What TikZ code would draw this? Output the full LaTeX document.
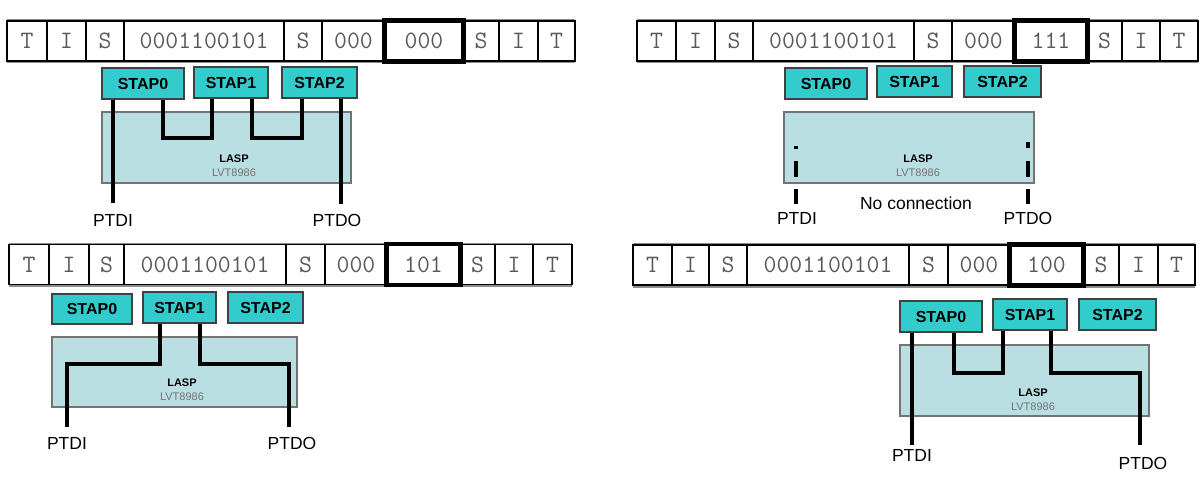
\documentclass[tikz,border=0pt]{standalone}
\usepackage{fontspec}
\setmainfont{Liberation Sans}
\definecolor{stapfill}{RGB}{51,204,204}
\definecolor{laspfill}{RGB}{186,223,227}
\begin{document}
\begin{tikzpicture}[x=1pt,y=-1pt,
	cell/.style={draw,line width=1.3pt,inner sep=0,minimum height=40pt,
		font=\ttfamily\fontsize{25}{25}\selectfont,text=black!65},
	barframe/.style={draw=black!45,line width=2.5pt},
	selbox/.style={draw,line width=4.5pt},
	stap/.style={draw=black!75,line width=1.2pt,fill=stapfill,inner sep=0,
		minimum height=31pt,font=\bfseries\fontsize{16}{16}\selectfont},
	lasp/.style={draw=black!55,line width=1.2pt,fill=laspfill,inner sep=0,
		minimum height=71pt},
	lasptext/.style={align=center,inner sep=0,font=\fontsize{11}{14}\selectfont},
	portlabel/.style={font=\fontsize{17.5}{18}\selectfont,inner sep=0},
	wire/.style={line width=4pt}]
\useasboundingbox (0,0) rectangle (1203,493);

% 000 : STAP0, STAP1 and STAP2 in the chain
\draw[barframe] (7,20) -- (575,20) (7,62) -- (575,62);
\foreach \a/\b/\t [count=\i] in {7/47/T,47/86/I,86/124/S,124/284/0001100101,284/322/S,
	322/385/000,385/463/000,463/499/S,499/538/I,538/575/T}
	\node[cell,minimum width={(\b-\a)*1pt}] (p1c\i) at ({(\a+\b)/2},41) {\t};
\draw[selbox] (p1c7.north west) rectangle (p1c7.south east);
\node[stap,minimum width=82pt] (p1a0) at (143,83.5) {STAP0};
\node[stap,minimum width=74pt] (p1a1) at (231,82.5) {STAP1};
\node[stap,minimum width=75pt] (p1a2) at (319.5,82.5) {STAP2};
\node[lasp,minimum width=249pt] (p1l) at (226.5,147.5) {};
\node[lasptext] (p1t) at (234,166) {\textbf{LASP}\\\textcolor{black!55}{LVT8986}};
\coordinate (p1i) at (113,203);
\coordinate (p1o) at (341,204);
\coordinate (p1u0) at (163,138);
\coordinate (p1u1) at (212,138);
\coordinate (p1u2) at (252,138);
\coordinate (p1u3) at (302,138);
\draw[wire] (p1i |- p1a0.south) -- (p1i);
\draw[wire] (p1u0 |- p1a0.south) -- (p1u0) -- (p1u1) -- (p1u1 |- p1a1.south);
\draw[wire] (p1u2 |- p1a1.south) -- (p1u2) -- (p1u3) -- (p1u3 |- p1a2.south);
\draw[wire] (p1o |- p1a2.south) -- (p1o);
\node[portlabel] (p1di) at (113,220) {PTDI};
\node[portlabel] (p1do) at (337,220) {PTDO};

% 111 : nothing in the chain
\draw[barframe] (637,20) -- (1198,20) (637,62) -- (1198,62);
\foreach \a/\b/\t [count=\i] in {637/676/T,676/715/I,715/753/S,753/914/0001100101,914/952/S,
	952/1015/000,1015/1087/111,1087/1122/S,1122/1160/I,1160/1198/T}
	\node[cell,minimum width={(\b-\a)*1pt}] (p2c\i) at ({(\a+\b)/2},41) {\t};
\draw[selbox] (p2c7.north west) rectangle (p2c7.south east);
\node[stap,minimum width=82pt] (p2a0) at (826,83.5) {STAP0};
\node[stap,minimum width=75pt] (p2a1) at (914.5,81.5) {STAP1};
\node[stap,minimum width=77pt] (p2a2) at (1002.5,81.5) {STAP2};
\node[lasp,minimum width=250pt] (p2l) at (909,147.5) {};
\node[lasptext] (p2t) at (918,166) {\textbf{LASP}\\\textcolor{black!55}{LVT8986}};
\coordinate (p2i) at (796,204);
\coordinate (p2o) at (1028,204);
\draw[wire] (796,146) -- (796,149) (796,161) -- (796,177) (796,189) -- (p2i);
\draw[wire] (1028,142) -- (1028,148) (1028,161) -- (1028,177) (1028,189) -- (p2o);
\node[portlabel] (p2di) at (797,218) {PTDI};
\node[portlabel] (p2do) at (1028,218) {PTDO};
\node[portlabel] (p2nc) at (916,203) {No connection};

% 101 : only STAP1 in the chain
\draw[barframe] (9,244) -- (572,244) (9,285.5) -- (572,285.5);
\foreach \a/\b/\t [count=\i] in {9/49/T,49/89/I,89/124/S,124/286/0001100101,286/325/S,
	325/387/000,387/460/101,460/495/S,495/533/I,533/572/T}
	\node[cell,minimum width={(\b-\a)*1pt}] (p3c\i) at ({(\a+\b)/2},264.5) {\t};
\draw[selbox] (p3c7.north west) rectangle (p3c7.south east);
\node[stap,minimum width=80pt,minimum height=30pt] (p3a0) at (92,309) {STAP0};
\node[stap,minimum width=73pt] (p3a1) at (179.5,307.5) {STAP1};
\node[stap,minimum width=75pt] (p3a2) at (265.5,307.5) {STAP2};
\node[lasp,minimum width=245pt,minimum height=70pt] (p3l) at (174.5,372) {};
\node[lasptext] (p3t) at (182,390) {\textbf{LASP}\\\textcolor{black!55}{LVT8986}};
\coordinate (p3i) at (67,427);
\coordinate (p3o) at (289,427);
\coordinate (p3u0) at (160,364);
\coordinate (p3u1) at (200,364);
\draw[wire] (p3u0 |- p3a1.south) -- (p3u0) -- (p3i |- p3u0) -- (p3i);
\draw[wire] (p3u1 |- p3a1.south) -- (p3u1) -- (p3o |- p3u1) -- (p3o);
\node[portlabel] (p3di) at (67,443) {PTDI};
\node[portlabel] (p3do) at (292,443) {PTDO};

% 100 : STAP0 and STAP1 in the chain
\draw[barframe] (633,244) -- (1195,244) (633,286.5) -- (1195,286.5);
\foreach \a/\b/\t [count=\i] in {633/672/T,672/709/I,709/747/S,747/909/0001100101,909/948/S,
	948/1010/000,1010/1083/100,1083/1119/S,1119/1158/I,1158/1195/T}
	\node[cell,minimum width={(\b-\a)*1pt}] (p4c\i) at ({(\a+\b)/2},265) {\t};
\draw[selbox] (p4c7.north west) rectangle (p4c7.south east);
\node[stap,minimum width=82pt] (p4a0) at (941,316.5) {STAP0};
\node[stap,minimum width=74pt] (p4a1) at (1030,314.5) {STAP1};
\node[stap,minimum width=77pt] (p4a2) at (1117.5,314.5) {STAP2};
\node[lasp,minimum width=249pt] (p4l) at (1024.5,380.5) {};
\node[lasptext] (p4t) at (1033,400) {\textbf{LASP}\\\textcolor{black!55}{LVT8986}};
\coordinate (p4i) at (912,445);
\coordinate (p4o) at (1140,445);
\coordinate (p4u0) at (954,373);
\coordinate (p4u1) at (1003,373);
\coordinate (p4u2) at (1051,373);
\draw[wire] (p4i |- p4a0.south) -- (p4i);
\draw[wire] (p4u0 |- p4a0.south) -- (p4u0) -- (p4u1) -- (p4u1 |- p4a1.south);
\draw[wire] (p4u2 |- p4a1.south) -- (p4u2) -- (p4o |- p4u2) -- (p4o);
\node[portlabel] (p4di) at (912,455) {PTDI};
\node[portlabel] (p4do) at (1143,463) {PTDO};
\end{tikzpicture}
\end{document}
